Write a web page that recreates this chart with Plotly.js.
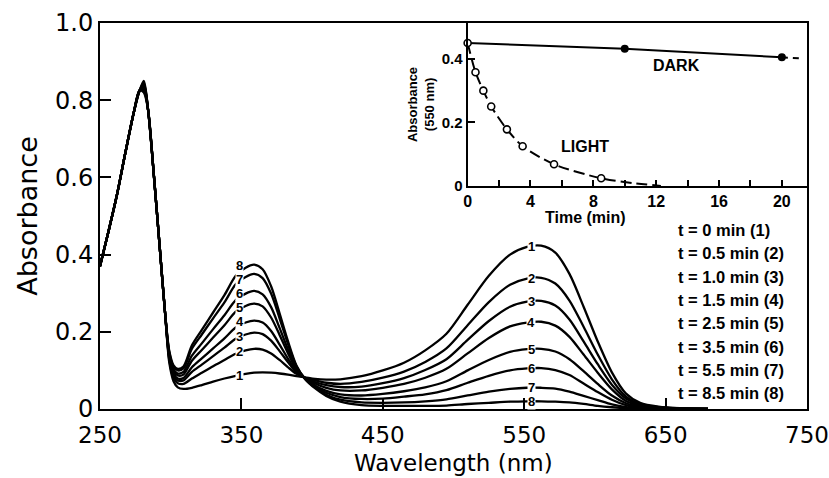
<!DOCTYPE html>
<html>
<head>
<meta charset="utf-8">
<script src="https://cdn.plot.ly/plotly-3.0.1.min.js"></script>
<style>html,body{margin:0;padding:0;background:#fff}#chart{width:829px;height:478px}</style>
</head>
<body>
<div id="chart"></div>
<script>
// ---- Main spectra data (wavelength in nm, absorbance) ----
const wavelength = [250,256,262,268,274,278,281,284,288,292,296,299,302,305,309,315,322,330,338,346,353,359,365,371,377,383,389,395,402,410,420,435,450,465,480,495,510,525,540,552,562,572,582,592,602,612,622,632,645,660,680];

const curve1 = [0.37,0.46,0.555,0.665,0.77,0.825,0.85,0.775,0.61,0.43,0.25, 0.12,0.072,0.056,0.052,0.055,0.062,0.071,0.079,0.086,0.091,0.094,0.095,0.094,0.092,0.089,0.085,0.082, 0.078,0.076,0.077,0.085,0.10,0.12,0.152,0.195,0.27,0.345,0.40,0.42,0.423,0.405,0.35,0.265,0.175,0.095,0.04,0.016,0.006,0.002,0];
const curve2 = [0.37,0.46,0.555,0.665,0.77,0.825,0.845,0.775,0.61,0.43,0.25, 0.127,0.081,0.067,0.065,0.079,0.094,0.111,0.127,0.143,0.152,0.156,0.154,0.144,0.127,0.108,0.091,0.081, 0.074,0.068,0.065,0.070,0.081,0.097,0.122,0.157,0.217,0.277,0.322,0.338,0.34,0.325,0.281,0.213,0.141,0.077,0.032,0.013,0.005,0.002,0];
const curve3 = [0.37,0.46,0.555,0.665,0.77,0.825,0.84,0.775,0.61,0.43,0.25, 0.131,0.087,0.074,0.074,0.096,0.115,0.137,0.159,0.182,0.193,0.198,0.194,0.177,0.150,0.121,0.095,0.081, 0.070,0.062,0.057,0.058,0.067,0.080,0.101,0.129,0.179,0.228,0.265,0.278,0.28,0.268,0.232,0.175,0.116,0.063,0.027,0.011,0.004,0.001,0];
const curve4 = [0.37,0.46,0.555,0.665,0.77,0.825,0.836,0.775,0.61,0.43,0.25, 0.134,0.092,0.079,0.080,0.108,0.131,0.157,0.183,0.211,0.224,0.229,0.224,0.202,0.167,0.130,0.098,0.080, 0.066,0.055,0.048,0.048,0.055,0.065,0.081,0.104,0.144,0.184,0.214,0.224,0.226,0.216,0.187,0.141,0.094,0.051,0.021,0.009,0.003,0.001,0];
const curve5 = [0.37,0.46,0.555,0.665,0.77,0.825,0.832,0.775,0.61,0.43,0.25, 0.139,0.098,0.087,0.089,0.125,0.153,0.185,0.217,0.252,0.267,0.273,0.266,0.237,0.192,0.144,0.102,0.080, 0.061,0.047,0.038,0.035,0.039,0.046,0.056,0.072,0.100,0.127,0.148,0.155,0.156,0.149,0.129,0.098,0.065,0.035,0.015,0.006,0.002,0.001,0];
const curve6 = [0.37,0.46,0.555,0.665,0.77,0.825,0.828,0.775,0.61,0.43,0.25, 0.143,0.103,0.092,0.096,0.138,0.170,0.207,0.243,0.282,0.299,0.306,0.297,0.264,0.210,0.154,0.105,0.079, 0.057,0.042,0.031,0.026,0.027,0.032,0.038,0.049,0.068,0.086,0.100,0.105,0.106,0.101,0.088,0.066,0.044,0.024,0.010,0.004,0.0015,0.0005,0];
const curve7 = [0.37,0.46,0.555,0.665,0.77,0.825,0.824,0.775,0.61,0.43,0.25, 0.147,0.109,0.100,0.105,0.156,0.193,0.235,0.276,0.323,0.342,0.350,0.339,0.299,0.235,0.168,0.110,0.078, 0.056,0.037,0.024,0.017,0.016,0.017,0.020,0.025,0.035,0.045,0.052,0.055,0.055,0.053,0.045,0.034,0.023,0.012,0.005,0.002,0.001,0,0];
const curve8 = [0.37,0.46,0.555,0.665,0.77,0.825,0.82,0.775,0.61,0.43,0.25, 0.15,0.113,0.104,0.11,0.165,0.205,0.25,0.295,0.345,0.366,0.374,0.362,0.318,0.248,0.175,0.112,0.078, 0.054,0.034,0.019,0.010,0.008,0.008,0.008,0.009,0.013,0.016,0.019,0.020,0.020,0.019,0.017,0.013,0.008,0.0045,0.002,0.001,0,0,0];

const curveLabels = ['1','2','3','4','5','6','7','8'];
// where the curve numbers sit (wavelength, absorbance) on the 360 nm band
const uvLabelX = 349;
const uvLabelY = [0.086,0.148,0.187,0.226,0.262,0.299,0.335,0.371];
const visLabelX = 555;
const legendLabels = ['t = 0 min (1)','t = 0.5 min (2)','t = 1.0 min (3)','t = 1.5 min (4)','t = 2.5 min (5)','t = 3.5 min (6)','t = 5.5 min (7)','t = 8.5 min (8)'];

const xTickVals = [250,350,450,550,650,750];
const yTickVals = [0,0.2,0.4,0.6,0.8,1.0];
const yTickText = ['0','0.2','0.4','0.6','0.8','1.0'];

// ---- Inset data (time in min, absorbance at 550 nm) ----
const darkTime = [0,10,20];
const darkAbs  = [0.45,0.432,0.405];
const darkTailTime = [20,21.3];
const darkTailAbs  = [0.405,0.401];
const lightTime = [0,0.5,1.0,1.5,2.5,3.5,5.5,8.5];
const lightAbs  = [0.45,0.358,0.30,0.25,0.178,0.125,0.068,0.024];
const lightFitTime = [0,0.5,1.0,1.5,2.5,3.5,5.5,8.5,10.5,12.3];
const lightFitAbs  = [0.45,0.358,0.30,0.25,0.178,0.125,0.068,0.024,0.009,0.0];
const insetXTicks = [0,4,8,12,16,20];
const insetXMinor = [2,6,10,14,18];
const insetYTicks = [0,0.2,0.4];
const insetYText  = ['0','0.2','0.4'];

const curves = [curve1,curve2,curve3,curve4,curve5,curve6,curve7,curve8];

function interp(xs, ys, x){
  for(let i=0;i<xs.length-1;i++){
    if(x>=xs[i] && x<=xs[i+1]){
      const t=(x-xs[i])/(xs[i+1]-xs[i]);
      return ys[i]+t*(ys[i+1]-ys[i]);
    }
  }
  return ys[ys.length-1];
}

const traces = curves.map((c,i)=>({
  x: wavelength, y: c, type:'scatter', mode:'lines',
  line:{color:'#000', width:2.3, shape:'spline', smoothing:0.8},
  hoverinfo:'skip', showlegend:false, xaxis:'x', yaxis:'y'
}));

traces.push({x:lightFitTime, y:lightFitAbs, type:'scatter', mode:'lines',
  line:{color:'#000', width:2, dash:'11px,5px', shape:'spline', smoothing:0.8},
  xaxis:'x2', yaxis:'y2', showlegend:false, hoverinfo:'skip'});
traces.push({x:darkTime, y:darkAbs, type:'scatter', mode:'lines',
  line:{color:'#000', width:2}, xaxis:'x2', yaxis:'y2', showlegend:false, hoverinfo:'skip'});
traces.push({x:darkTailTime, y:darkTailAbs, type:'scatter', mode:'lines',
  line:{color:'#000', width:2, dash:'6px,5px'}, xaxis:'x2', yaxis:'y2', showlegend:false, hoverinfo:'skip'});
traces.push({x:darkTime.slice(1), y:darkAbs.slice(1), type:'scatter', mode:'markers',
  marker:{color:'#000', size:8}, xaxis:'x2', yaxis:'y2', showlegend:false, hoverinfo:'skip', cliponaxis:false});
traces.push({x:lightTime, y:lightAbs, type:'scatter', mode:'markers',
  marker:{color:'#fff', size:7, line:{color:'#000', width:1.6}}, xaxis:'x2', yaxis:'y2', showlegend:false, hoverinfo:'skip', cliponaxis:false});

const labelFont = {family:'Liberation Sans', size:13, color:'#000', weight:'bold'};
const annotations = [];
curves.forEach((c,i)=>{
  annotations.push({x:uvLabelX, y:uvLabelY[i], xref:'x', yref:'y', text:curveLabels[i], showarrow:false,
    font:labelFont, bgcolor:'#fff', borderpad:0, xanchor:'center', yanchor:'middle'});
  annotations.push({x:visLabelX, y:interp(wavelength,c,visLabelX), xref:'x', yref:'y', text:curveLabels[i], showarrow:false,
    font:labelFont, bgcolor:'#fff', borderpad:0, xanchor:'center', yanchor:'middle'});
});
const legendTop = 0.4637, legendStep = 0.0604;
legendLabels.forEach((t,i)=>{
  annotations.push({x:0.815, y:legendTop - i*legendStep, xref:'paper', yref:'paper', text:t, showarrow:false,
    xanchor:'left', yanchor:'middle', font:{family:'Liberation Sans', size:16.5, color:'#000', weight:'bold'}});
});
annotations.push({x:13.3, y:0.378, xref:'x2', yref:'y2', text:'DARK', showarrow:false,
  font:{family:'Liberation Sans', size:16, color:'#000', weight:'bold'}});
annotations.push({x:7.5, y:0.123, xref:'x2', yref:'y2', text:'LIGHT', showarrow:false,
  font:{family:'Liberation Sans', size:16, color:'#000', weight:'bold'}});
annotations.push({x:7.5, y:0.495, xref:'x2', yref:'paper', text:'Time (min)', showarrow:false,
  xanchor:'center', yanchor:'middle', font:{family:'Liberation Sans', size:16, color:'#000', weight:'bold'}});
// main x-axis title
annotations.push({x:0.5, y:-0.1772, xref:'paper', yref:'paper', text:'Wavelength (nm)', showarrow:false,
  xanchor:'center', yanchor:'bottom', borderpad:0, font:{family:'DejaVu Sans', size:23, color:'#000'}});

const mainFont = {family:'DejaVu Sans', size:23, color:'#000'};
const layout = {
  width:829, height:478,
  margin:{l:100, r:22, t:23, b:69},
  paper_bgcolor:'#fff', plot_bgcolor:'rgba(0,0,0,0)',
  showlegend:false,
  xaxis:{domain:[0,1], range:[250,750], tickvals:xTickVals, ticks:'inside', ticklen:11, tickwidth:2, tickcolor:'#000',
    showline:true, linewidth:2, linecolor:'#000', mirror:true, showgrid:false, zeroline:false,
    tickfont:mainFont, ticklabelstandoff:4, ticklabeloverflow:'allow'},
  yaxis:{domain:[0,1], range:[0,1.0], tickvals:yTickVals, ticktext:yTickText, ticks:'inside', ticklen:11, tickwidth:2, tickcolor:'#000',
    showline:true, linewidth:2, linecolor:'#000', mirror:true, showgrid:false, zeroline:false,
    tickfont:{family:'DejaVu Sans', size:24, color:'#000'}, ticklabelstandoff:0, ticklabeloverflow:'allow',
    title:{text:'Absorbance', font:{family:'DejaVu Sans', size:27, color:'#000'}, standoff:10}},
  xaxis2:{domain:[0.52,1], anchor:'y2', range:[0,21.6], tickvals:insetXTicks, ticks:'inside', ticklen:6, tickwidth:2, tickcolor:'#000',
    minor:{tickvals:insetXMinor, ticks:'inside', ticklen:6, tickwidth:2, tickcolor:'#000'},
    showline:true, linewidth:2, linecolor:'#000', mirror:true, showgrid:false, zeroline:false,
    tickfont:{family:'Liberation Sans', size:16, color:'#000', weight:'bold'}, ticklabeloverflow:'allow'},
  yaxis2:{domain:[0.578,1], anchor:'x2', range:[0,0.513], tickvals:insetYTicks, ticktext:insetYText, ticks:'inside', ticklen:7, tickwidth:2, tickcolor:'#000',
    showline:true, linewidth:2, linecolor:'#000', mirror:true, showgrid:false, zeroline:false,
    tickfont:{family:'Liberation Sans', size:15, color:'#000', weight:'bold'}, ticklabeloverflow:'allow',
    title:{text:'Absorbance<br>(550 nm)', font:{family:'Liberation Sans', size:13, color:'#000', weight:'bold'}, standoff:4}},
  annotations: annotations
};

Plotly.newPlot('chart', traces, layout, {staticPlot:true, displayModeBar:false});
</script>
</body>
</html>
